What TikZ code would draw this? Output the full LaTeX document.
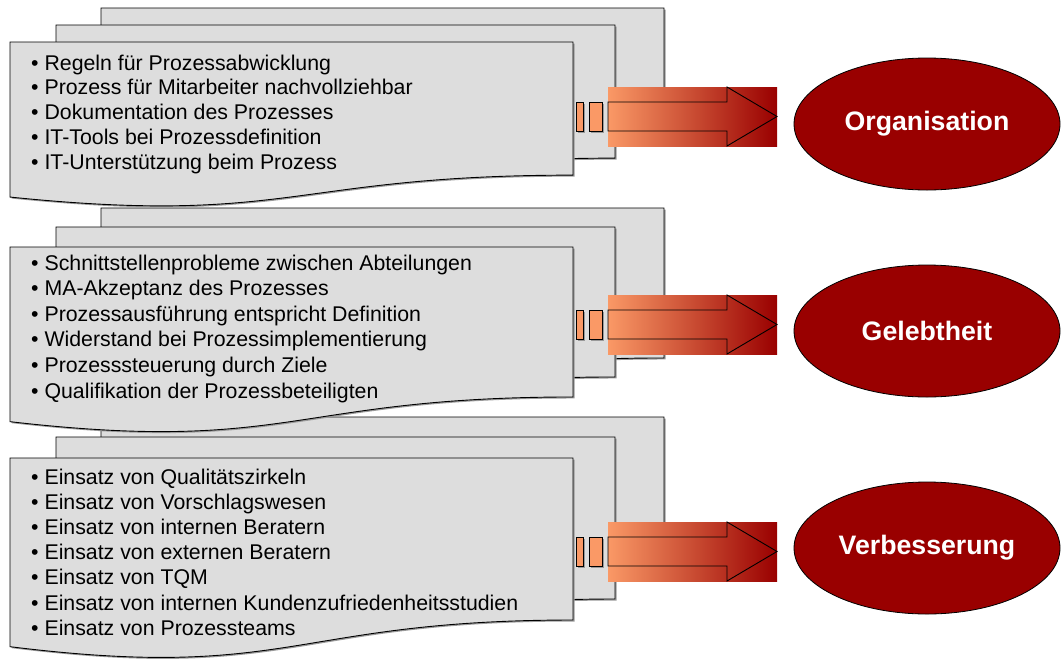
\documentclass[tikz,border=0pt]{standalone}
\usepackage{fontspec}
\setmainfont{Liberation Sans}
\usetikzlibrary{shapes.geometric}

\definecolor{pagegray}{HTML}{DDDDDD}
\definecolor{shadowgray}{HTML}{9A9A9A}
\definecolor{arrowlight}{HTML}{FA9966}
\definecolor{arrowmid}{HTML}{D26A48}
\definecolor{arrowdark}{HTML}{990000}

\tikzset{
  page/.style={fill=pagegray, draw=black, line width=0.9},
  pageshadow/.style={fill=shadowgray, shift={(1.5,1.5)}},
  item/.style={anchor=base west, inner sep=0, font=\fontsize{21.3}{25}\selectfont},
  goal/.style={ellipse, draw=black, line width=0.8, fill=arrowdark, text=white,
    font=\bfseries\fontsize{26.7}{30}\selectfont,
    minimum width=266, minimum height=132, inner sep=0},
  stub/.style={fill=arrowlight, draw=black, line width=0.9},
}

%% office style document sheet: #1,#2 = top left corner, #3 = width, #4 = height
\newcommand{\sheetpath}[4]{(#1,#2) -- ({#1+#3},#2) -- ({#1+#3},{#2+0.802*#4})
  .. controls ({#1+0.5*#3},{#2+0.802*#4}) and ({#1+0.5*#3},{#2+1.107*#4}) .. (#1,{#2+0.934*#4}) -- cycle}
\newcommand{\sheet}[4]{%
  \fill[pageshadow] \sheetpath{#1}{#2}{#3}{#4};
  \draw[page] \sheetpath{#1}{#2}{#3}{#4};}

%% block arrow with two stubs, #1 = middle height
\newcommand{\flowarrow}[1]{%
  \fill[shadowgray] (577.5,{#1-13}) rectangle (584.5,{#1+16});
  \fill[shadowgray] (590.5,{#1-13}) rectangle (603.5,{#1+16});
  \draw[stub] (576,{#1-14.5}) rectangle (583,{#1+14.5});
  \draw[stub] (589,{#1-14.5}) rectangle (602,{#1+14.5});
  \shade[left color=arrowlight, middle color=arrowmid, right color=arrowdark]
    (608,{#1-29.5}) rectangle (777,{#1+29.5});
  \draw[line width=0.9] (608,{#1-14.5}) -- (727,{#1-14.5}) -- (727,{#1-29.5}) -- (777,#1)
    -- (727,{#1+29.5}) -- (727,{#1+14.5}) -- (608,{#1+14.5}) -- cycle;}

\begin{document}
\begin{tikzpicture}[x=1pt, y=-1pt]
\useasboundingbox (0,0) rectangle (1062,659);

%% Verbesserung (drawn first, lies below the others)
\sheet{101}{417}{563}{202}
\sheet{56}{437}{559}{202}
\flowarrow{551.5}
\sheet{10}{458}{563}{202}
\foreach \txt [count=\i] in {Einsatz von Qualitätszirkeln, Einsatz von Vorschlagswesen,
    Einsatz von internen Beratern, Einsatz von externen Beratern, Einsatz von TQM,
    Einsatz von internen Kundenzufriedenheitsstudien, Einsatz von Prozessteams}
  \node[item] (veritem\i) at (31,{484+25.2*(\i-1)}) {\textbullet\ \txt};

%% Gelebtheit
\sheet{101}{208}{563}{187}
\sheet{56}{227}{559}{187}
\flowarrow{324.5}
\sheet{10}{247}{563}{187}
\foreach \txt [count=\i] in {Schnittstellenprobleme zwischen Abteilungen, MA-Akzeptanz des Prozesses,
    Prozessausführung entspricht Definition, Widerstand bei Prozessimplementierung,
    Prozesssteuerung durch Ziele, Qualifikation der Prozessbeteiligten}
  \node[item] (gelitem\i) at (31,{270+25.6*(\i-1)}) {\textbullet\ \txt};

%% Organisation
\sheet{101}{8}{563}{166}
\sheet{56}{25}{559}{166}
\flowarrow{116.5}
\sheet{10}{42}{563}{166}
\foreach \txt [count=\i] in {Regeln für Prozessabwicklung, Prozess für Mitarbeiter nachvollziehbar,
    Dokumentation des Prozesses, IT-Tools bei Prozessdefinition, IT-Unterstützung beim Prozess}
  \node[item] (orgitem\i) at (31,{70+24.8*(\i-1)}) {\textbullet\ \txt};

%% goals
\node[goal] (org) at (927,124) {Organisation};
\node[goal] (gel) at (927,331) {Gelebtheit};
\node[goal] (ver) at (927,548) {Verbesserung};
\end{tikzpicture}
\end{document}
